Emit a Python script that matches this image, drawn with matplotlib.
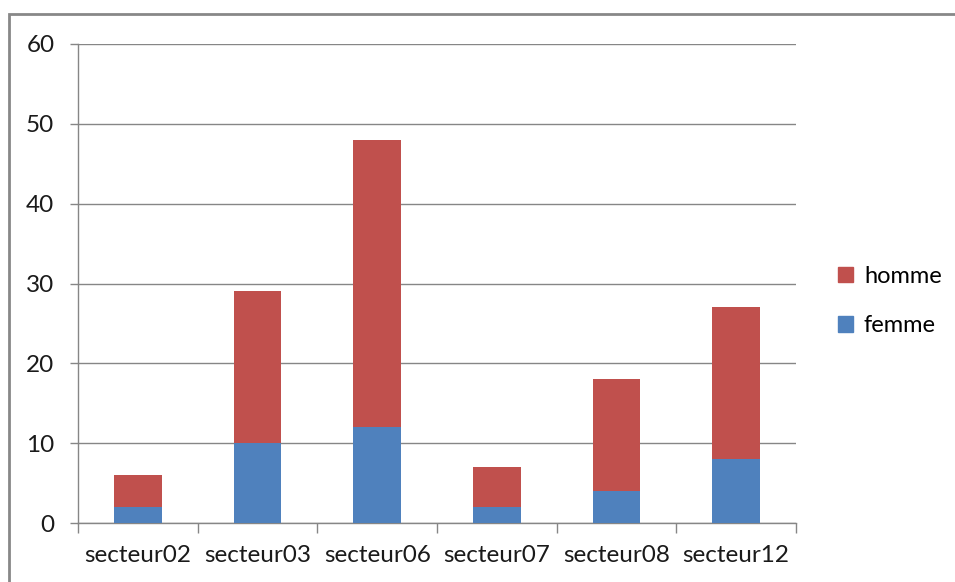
import matplotlib
matplotlib.use('Agg')
import matplotlib.pyplot as plt
from matplotlib.patches import Rectangle, Patch
import numpy as np

# --- données ---
secteurs = ['secteur02', 'secteur03', 'secteur06', 'secteur07', 'secteur08', 'secteur12']
femme = [2, 10, 12, 2, 4, 8]
homme = [4, 19, 36, 5, 14, 19]

c_femme = '#4F81BD'
c_homme = '#C0504D'
c_grid = '#868686'

plt.rcParams['font.family'] = ['Lato', 'DejaVu Sans']

fig = plt.figure(figsize=(9.55, 5.82), dpi=100)
fig.patch.set_facecolor('white')

# cadre du graphique (style Excel)
fig.patches.append(Rectangle((9 / 955, -0.05), 1.2, (582 - 14) / 582 + 0.05,
                             transform=fig.transFigure, fill=False,
                             edgecolor='#888888', linewidth=2))

ax = fig.add_axes([78 / 955, 59 / 582, 718 / 955, 479 / 582])
x = np.arange(len(secteurs))
ax.bar(x, femme, width=0.4, color=c_femme, zorder=3)
ax.bar(x, homme, width=0.4, bottom=femme, color=c_homme, zorder=3)

ax.set_xlim(-0.5, len(secteurs) - 0.5)
ax.set_ylim(0, 60)
ax.set_yticks(range(0, 61, 10))
ax.yaxis.grid(True, color=c_grid, linewidth=1, zorder=0)

for s in ['top', 'right']:
    ax.spines[s].set_visible(False)
for s in ['left', 'bottom']:
    ax.spines[s].set_color(c_grid)
    ax.spines[s].set_linewidth(1)

ax.set_xticks(x)
ax.set_xticklabels(secteurs)
ax.set_xticks(np.arange(-0.5, len(secteurs)), minor=True)
ax.tick_params(axis='x', which='major', length=0, pad=16, labelsize=17.5)
ax.tick_params(axis='x', which='minor', length=7, color=c_grid, width=1)
ax.tick_params(axis='y', length=6, color=c_grid, width=1, pad=11, labelsize=17.5)
for t in ax.get_xticklabels() + ax.get_yticklabels():
    t.set_color('#1a1a1a')

handles = [Patch(color=c_homme, label='homme'), Patch(color=c_femme, label='femme')]
fig.legend(handles=handles, loc='center left', bbox_to_anchor=(838 / 955, 1 - 301 / 582),
           frameon=False, fontsize=17, handlelength=0.65, handleheight=0.65,
           handletextpad=0.45, labelspacing=1.2, borderpad=0, borderaxespad=0)

fig.savefig('out.png', dpi=100)
